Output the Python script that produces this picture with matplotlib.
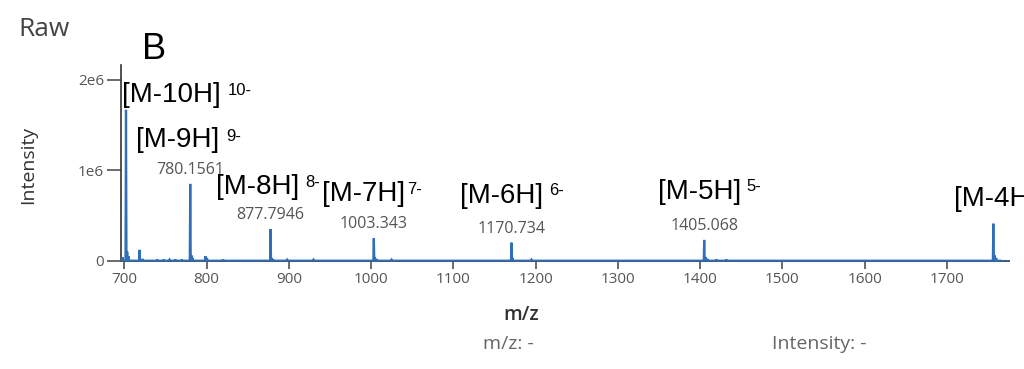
import matplotlib
matplotlib.use("Agg")
import matplotlib.pyplot as plt
import numpy as np

# ---- data ----
peak_mz = [702.04, 780.1561, 877.7946, 1003.343, 1170.734, 1405.068, 1756.6]
peak_int = [1.67e6, 0.85e6, 0.35e6, 0.25e6, 0.20e6, 0.23e6, 0.41e6]
peak_labels = ["", "780.1561", "877.7946", "1003.343", "1170.734", "1405.068", ""]

minor_mz = [698.0, 703.5, 705.0, 718.5, 722.0, 740.0, 748.0, 755.0, 762.0, 770.0,
            781.5, 783.0, 798.5, 800.5, 820.0, 879.0, 881.0, 898.0, 930.0,
            1004.5, 1006.5, 1025.0, 1172.0, 1195.0, 1406.5, 1409.0, 1420.0,
            1432.0, 1758.0, 1760.0]
minor_int = [0.04e6, 0.10e6, 0.05e6, 0.12e6, 0.02e6, 0.015e6, 0.015e6, 0.01e6, 0.015e6, 0.015e6,
             0.06e6, 0.03e6, 0.05e6, 0.03e6, 0.012e6, 0.03e6, 0.015e6, 0.01e6, 0.01e6,
             0.04e6, 0.02e6, 0.01e6, 0.03e6, 0.01e6, 0.04e6, 0.02e6, 0.015e6,
             0.015e6, 0.06e6, 0.03e6]

ion_names = ["[M-10H]", "[M-9H]", "[M-8H]", "[M-7H]", "[M-6H]", "[M-5H]", "[M-4H]"]
ion_charges = ["10-", "9-", "8-", "7-", "6-", "5-", ""]

x_ticks = [700, 800, 900, 1000, 1100, 1200, 1300, 1400, 1500, 1600, 1700]
y_ticks = [0, 1e6, 2e6]
y_ticklabels = ["0", "1e6", "2e6"]

# ---- figure ----
W, H = 1024, 369
fig = plt.figure(figsize=(W / 100, H / 100), dpi=100)
fig.patch.set_facecolor("white")

left, right, top, bottom = 120.7, 1009.3, 65.0, 260.7
ax = fig.add_axes([left / W, 1 - bottom / H, (right - left) / W, (bottom - top) / H])
ax.set_xlim(695.6, 1776)
ax.set_ylim(0, 2.166e6)

# build stick profile from peak lists
all_mz = np.array(peak_mz + minor_mz)
all_int = np.array(peak_int + minor_int)
order = np.argsort(all_mz)
xs, ys = [], []
for m, i in zip(all_mz[order], all_int[order]):
    xs += [m - 0.6, m, m + 0.6]
    ys += [0, i, 0]
xs = [697.0] + xs + [1765.0]
ys = [0] + ys + [0]
line_col = "#2f6fb8"
ax.plot(xs, ys, color=line_col, lw=1.6, solid_joinstyle="miter", zorder=3)

for s in ["top", "right"]:
    ax.spines[s].set_visible(False)
ax.spines["left"].set_color("#333333")
ax.spines["bottom"].set_color("#3a5a80")
ax.spines["left"].set_linewidth(1.2)
ax.spines["bottom"].set_linewidth(1.4)

tick_font = {"family": "Open Sans", "size": 11, "color": "#555555"}
ax.set_xticks(x_ticks)
ax.set_xticklabels([str(t) for t in x_ticks], fontdict=tick_font)
ax.set_yticks(y_ticks)
ax.set_yticklabels(y_ticklabels, fontdict=tick_font)
ax.tick_params(axis="x", length=6, width=1.1, color="#444444", pad=2)
ax.tick_params(axis="y", length=10, width=1.1, color="#444444", pad=2)

# gray peak annotations
for m, i, lab in zip(peak_mz, peak_int, peak_labels):
    if lab:
        ax.annotate(lab, xy=(m, i), xytext=(0, 10), textcoords="offset pixels",
                    ha="center", va="baseline", fontsize=11.5, family="Open Sans",
                    color="#555555", zorder=4)

def ftext(x, y, s, **kw):
    fig.text(x / W, 1 - y / H, s, **kw)

# ion labels (main text left x, baseline y, superscript left x, superscript baseline y)
ion_layout = [(122, 102, 228, 95), (136, 147, 226, 141), (216, 194, 305, 187),
              (322, 201, 407, 194), (460, 203, 549, 195), (658, 199, 746, 191),
              (954, 206, 0, 0)]
for name, ch, (x0, y0, x1, y1) in zip(ion_names, ion_charges, ion_layout):
    ftext(x0, y0, name, fontsize=20, family="Liberation Sans", color="black",
          ha="left", va="baseline", zorder=5)
    if ch:
        ftext(x1, y1, ch, fontsize=12, family="Liberation Sans", color="black",
              ha="left", va="baseline", zorder=5)

ftext(142, 59, "B", fontsize=26, family="Liberation Sans", color="black",
      ha="left", va="baseline")
ftext(18, 36, "Raw", fontsize=19, family="Open Sans", color="#444444",
      ha="left", va="baseline")
fig.text(28 / W, 1 - 165 / H, "Intensity", rotation=90, fontsize=14,
         family="Open Sans", color="#333333", ha="center", va="center")
ftext(521, 315, "m/z", fontsize=14, family="Open Sans", fontweight="semibold",
      color="#333333", ha="center", va="center")
ftext(483, 344, "m/z: -", fontsize=14, family="Open Sans", color="#666666",
      ha="left", va="center")
ftext(772, 344, "Intensity: -", fontsize=14, family="Open Sans", color="#666666",
      ha="left", va="center")

fig.savefig("out.png", dpi=100, facecolor="white")
